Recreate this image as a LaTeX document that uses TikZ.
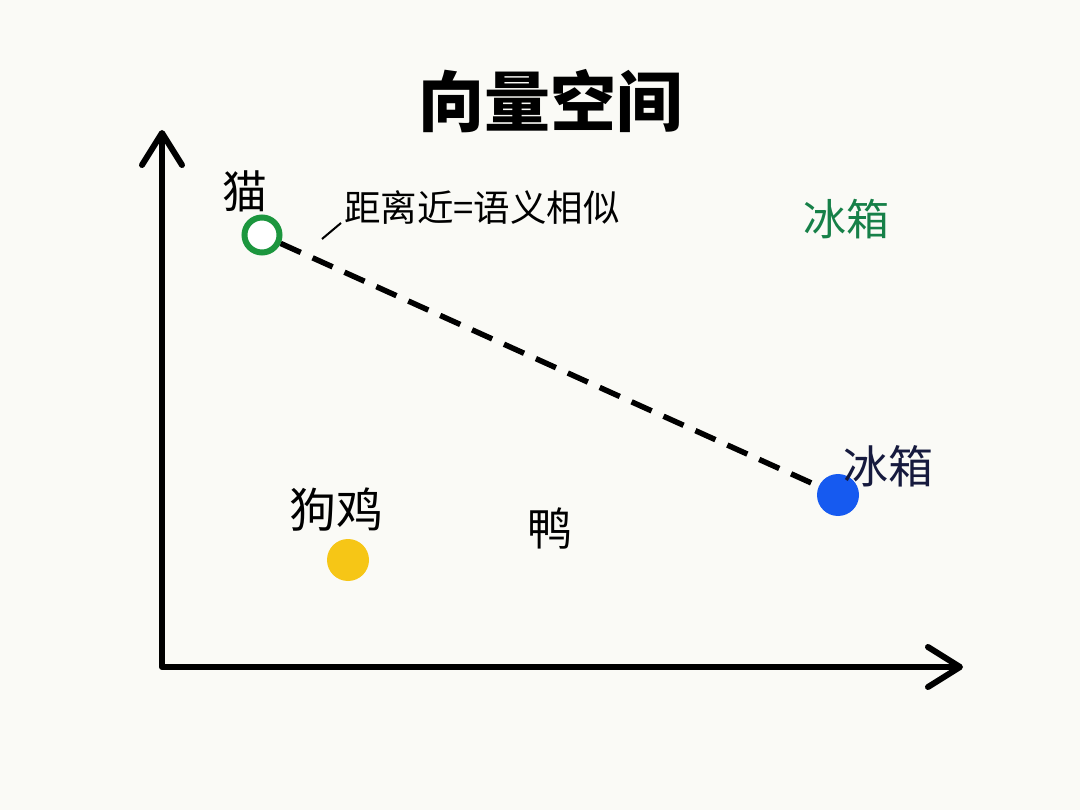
\documentclass[tikz,border=0pt]{standalone}
\usepackage{fontspec}
\usetikzlibrary{arrows.meta,positioning}
\newfontfamily\cjk{Noto Sans CJK SC}
\definecolor{paper}{RGB}{250,250,246}
\definecolor{catgreen}{RGB}{28,150,62}
\definecolor{fridgegreen}{RGB}{22,128,72}
\definecolor{fridgeblue}{RGB}{22,90,240}
\definecolor{navy}{RGB}{22,26,62}
\definecolor{dogyellow}{RGB}{246,198,22}
\newcommand{\cjksize}[1]{\cjk\fontsize{#1}{#1}\selectfont}
\tikzset{
  axisline/.style={line width=6pt, line cap=round, line join=round,
    {Straight Barb[length=32pt, width=40pt, round]}-{Straight Barb[length=32pt, width=40pt, round]}},
  ttl/.style={font=\cjksize{66}\bfseries, inner sep=0pt},
  word/.style={font=\cjksize{43}, inner sep=0pt},
  note/.style={font=\cjksize{36.5}, inner sep=0pt, anchor=west},
  dot/.style={circle, inner sep=0pt, minimum size=42pt},
  ring/.style={circle, draw=catgreen, line width=6pt, fill=white, inner sep=0pt, minimum size=35pt},
  dashline/.style={line width=5.5pt, dash pattern=on 22pt off 13pt},
  leader/.style={line width=2pt},
}

\begin{document}
\begin{tikzpicture}[x=1pt, y=-1pt]
  \fill[paper] (0,0) rectangle (1080,810);
  \useasboundingbox (0,0) rectangle (1080,810);
  % axes
  \coordinate (ytop) at (162,130);
  \coordinate (orig) at (162,667);
  \coordinate (xend) at (963,667);
  \draw[axisline] (ytop) -- (orig) -- (xend);
  \node[ttl] (title) at (550,101) {向量空间};
  % points
  \node[ring] (cat) at (262,235) {};
  \node[word, font=\cjksize{45}] (catlab) at (245,191) {猫};
  \node[dot, fill=fridgeblue] (fridge) at (838,495) {};
  \node[word, font=\cjksize{45}, text=navy] (fridgelab) at (888,466) {冰箱};
  \node[word, text=fridgegreen] (fridgefar) at (846,219) {冰箱};
  \node[dot, fill=dogyellow] (dog) at (348,560) {};
  \node[word, font=\cjksize{47}] (doglab) at (336,510) {狗鸡};
  \node[word, font=\cjksize{45}] (duck) at (550,528) {鸭};
  \draw[dashline] (cat) -- (fridge);
  % annotation
  \node[note] (sim) at (344,208) {距离近=语义相似};
  \coordinate (leadlow) at (322,239);
  \coordinate (leadhigh) at (341,223);
  \draw[leader] (leadlow) -- (leadhigh);
\end{tikzpicture}
\end{document}
